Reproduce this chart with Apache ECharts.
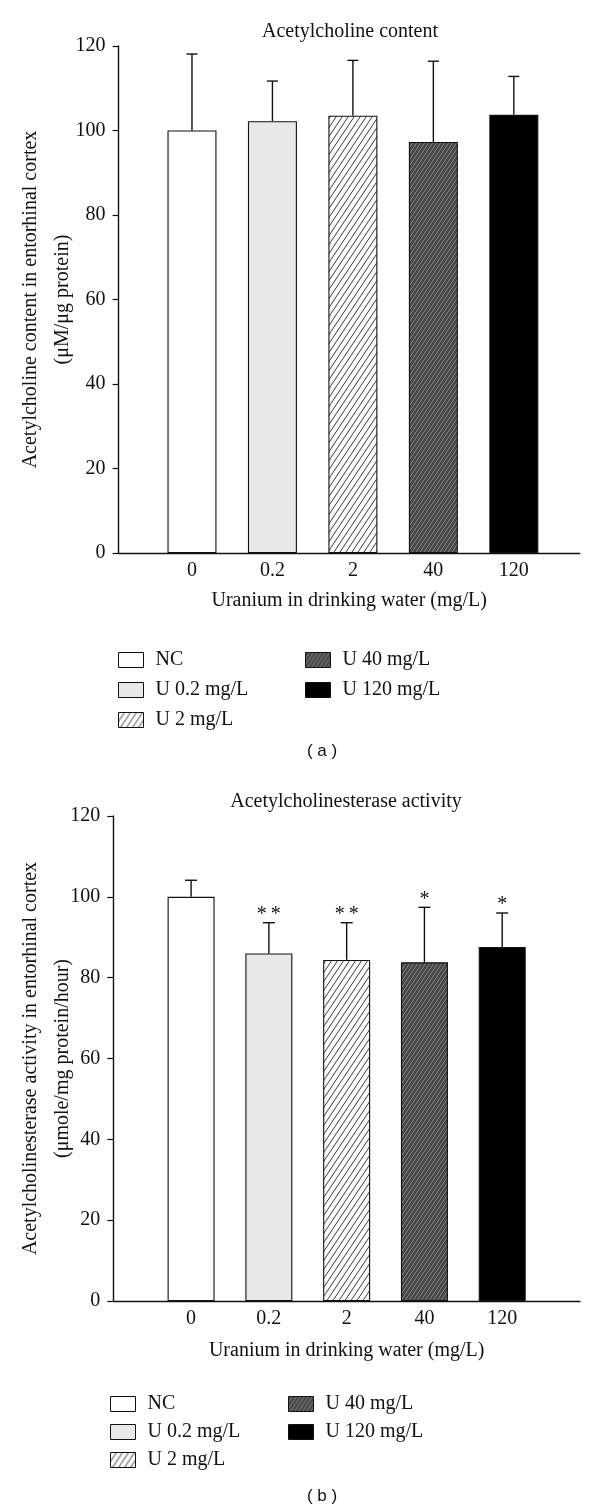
<!DOCTYPE html>
<html>
<head>
<meta charset="utf-8">
<script src="https://cdn.jsdelivr.net/npm/echarts@6/dist/echarts.min.js"></script>
<style>
html,body{margin:0;padding:0;background:#fff;}
#c{width:600px;height:1512px;}
</style>
</head>
<body>
<div id="c"></div>
<script>
// ---- data ----
const categories = ['0', '0.2', '2', '40', '120'];
const groupNames = ['NC', 'U 0.2 mg/L', 'U 2 mg/L', 'U 40 mg/L', 'U 120 mg/L'];
const achMean = [100, 102.2, 103.5, 97.3, 103.7];
const achUpper = [118.1, 111.7, 116.6, 116.4, 112.8];
const acheMean = [100, 86.0, 84.4, 83.8, 87.6];
const acheUpper = [104.1, 93.6, 93.6, 97.4, 96.0];
const acheSig = ['', '**', '**', '*', '*'];
const yTicks = [0, 20, 40, 60, 80, 100, 120];

// ---- patterns ----
function makeHatch() {
  const c = document.createElement('canvas');
  c.width = 6; c.height = 9;
  const g = c.getContext('2d');
  g.fillStyle = '#fff'; g.fillRect(0, 0, 6, 9);
  g.strokeStyle = '#222'; g.lineWidth = 0.9;
  [-6, 0, 6].forEach((dx) => {
    g.beginPath(); g.moveTo(dx, 9); g.lineTo(dx + 6, 0); g.stroke();
  });
  return c;
}
function makeDark() {
  const c = document.createElement('canvas');
  c.width = 4; c.height = 6;
  const g = c.getContext('2d');
  g.fillStyle = '#444444'; g.fillRect(0, 0, 4, 6);
  g.strokeStyle = '#9aa096'; g.lineWidth = 0.8;
  [-4, 0, 4].forEach((dx) => {
    g.beginPath(); g.moveTo(dx, 6); g.lineTo(dx + 4, 0); g.stroke();
  });
  return c;
}
const fills = [
  '#ffffff',
  '#e8e8e8',
  { image: makeHatch(), repeat: 'repeat' },
  { image: makeDark(), repeat: 'repeat' },
  '#000000'
];

const serif = 'Liberation Serif';

function barSeries(gi, means, bw) {
  return means.map((v, i) => ({
    name: groupNames[i],
    type: 'bar',
    xAxisIndex: gi, yAxisIndex: gi,
    barWidth: bw, barGap: '-100%',
    data: [[i, v]],
    itemStyle: { color: fills[i], borderColor: '#111', borderWidth: 1.1 },
    emphasis: { disabled: true },
    animation: false
  }));
}
function errSeries(gi, means, uppers, sig, cap) {
  return {
    type: 'custom',
    xAxisIndex: gi, yAxisIndex: gi,
    data: means.map((v, i) => [i, v, uppers[i]]),
    animation: false,
    z: 5,
    renderItem: function (params, api) {
      const lo = api.coord([api.value(0), api.value(1)]);
      const hi = api.coord([api.value(0), api.value(2)]);
      const children = [
        { type: 'line', shape: { x1: lo[0], y1: lo[1], x2: hi[0], y2: hi[1] }, style: { stroke: '#111', lineWidth: 1.4 } },
        { type: 'line', shape: { x1: hi[0] - cap, y1: hi[1], x2: hi[0] + cap, y2: hi[1] }, style: { stroke: '#111', lineWidth: 1.4 } }
      ];
      const s = sig ? sig[params.dataIndex] : '';
      if (s) {
        children.push({ type: 'text', x: hi[0], y: hi[1] - 8, style: { text: s.split('').join('\u2009'), fill: '#111', font: '20px ' + serif, textAlign: 'center', textVerticalAlign: 'middle' } });
      }
      return { type: 'group', children: children };
    }
  };
}
function xAx(gi, min, max, gap) {
  return {
    type: 'value', gridIndex: gi, min: min, max: max,
    name: 'Uranium in drinking water (mg/L)', nameLocation: 'middle', nameGap: gap,
    nameMoveOverlap: false,
    nameTextStyle: { fontFamily: serif, fontSize: 20, color: '#111' },
    axisLine: { onZero: false, lineStyle: { color: '#111', width: 1.4 } },
    axisTick: { show: false },
    splitLine: { show: false },
    axisLabel: { customValues: [0, 1, 2, 3, 4], formatter: v => categories[v], fontFamily: serif, fontSize: 20, color: '#111', margin: 8 }
  };
}
function yAx(gi, name, gap) {
  return {
    type: 'value', gridIndex: gi, min: 0, max: 120, interval: 20,
    name: name, nameLocation: 'middle', nameGap: gap, nameRotate: 90,
    nameMoveOverlap: false,
    nameTextStyle: { fontFamily: serif, fontSize: 20, color: '#111', lineHeight: 32, align: 'center' },
    axisLine: { show: true, onZero: false, lineStyle: { color: '#111', width: 1.4 } },
    axisTick: { show: true, length: 6, lineStyle: { color: '#111', width: 1.2 } },
    splitLine: { show: false },
    axisLabel: { fontFamily: serif, fontSize: 20, color: '#111', margin: 13, formatter: v => (yTicks.indexOf(v) >= 0 ? String(v) : '') }
  };
}
function legendCol(names, left, top, gap) {
  return {
    data: names, orient: 'vertical', left: left, top: top, padding: 0,
    icon: 'rect',
    itemWidth: 25, itemHeight: 15, itemGap: gap, selectedMode: false,
    textStyle: { fontFamily: serif, fontSize: 20, lineHeight: 15, color: '#111', padding: [0, 0, 0, 7] },
    itemStyle: { borderColor: '#111', borderWidth: 1 }
  };
}

const chart = echarts.init(document.getElementById('c'), null, { renderer: 'canvas' });
chart.setOption({
  backgroundColor: '#fff',
  animation: false,
  title: [
    { text: 'Acetylcholine content', left: 350, top: 22, textAlign: 'center', padding: 0, textStyle: { fontFamily: serif, fontSize: 20, fontWeight: 'normal', color: '#111' } },
    { text: 'Acetylcholinesterase activity', left: 346, top: 792, textAlign: 'center', padding: 0, textStyle: { fontFamily: serif, fontSize: 20, fontWeight: 'normal', color: '#111' } },
    { text: '( a )', left: 322, top: 743, textAlign: 'center', padding: 0, textStyle: { fontFamily: 'Liberation Sans', fontSize: 17, fontWeight: 'normal', color: '#111' } },
    { text: '( b )', left: 322, top: 1488, textAlign: 'center', padding: 0, textStyle: { fontFamily: 'Liberation Sans', fontSize: 17, fontWeight: 'normal', color: '#111' } }
  ],
  grid: [
    { left: 118.6, right: 20.2, top: 46, height: 507, outerBoundsMode: 'none', containLabel: false },
    { left: 113.3, right: 20, top: 816, height: 485, outerBoundsMode: 'none', containLabel: false }
  ],
  xAxis: [xAx(0, -0.912, 4.82, 38), xAx(1, -1.0, 5.0, 40)],
  yAxis: [
    yAx(0, 'Acetylcholine content in entorhinal cortex\n(\u03bcM/\u03bcg protein)', 40),
    yAx(1, 'Acetylcholinesterase activity in entorhinal cortex\n(\u03bcmole/mg protein/hour)', 35)
  ],
  legend: [
    legendCol(groupNames.slice(0, 3), 118, 650, 10),
    legendCol(groupNames.slice(3), 305, 650, 10),
    legendCol(groupNames.slice(0, 3), 110, 1394, 8),
    legendCol(groupNames.slice(3), 288, 1394, 8)
  ],
  series: [].concat(
    barSeries(0, achMean, 49),
    [errSeries(0, achMean, achUpper, null, 5.5)],
    barSeries(1, acheMean, 47),
    [errSeries(1, acheMean, acheUpper, acheSig, 6)]
  )
});
</script>
</body>
</html>
